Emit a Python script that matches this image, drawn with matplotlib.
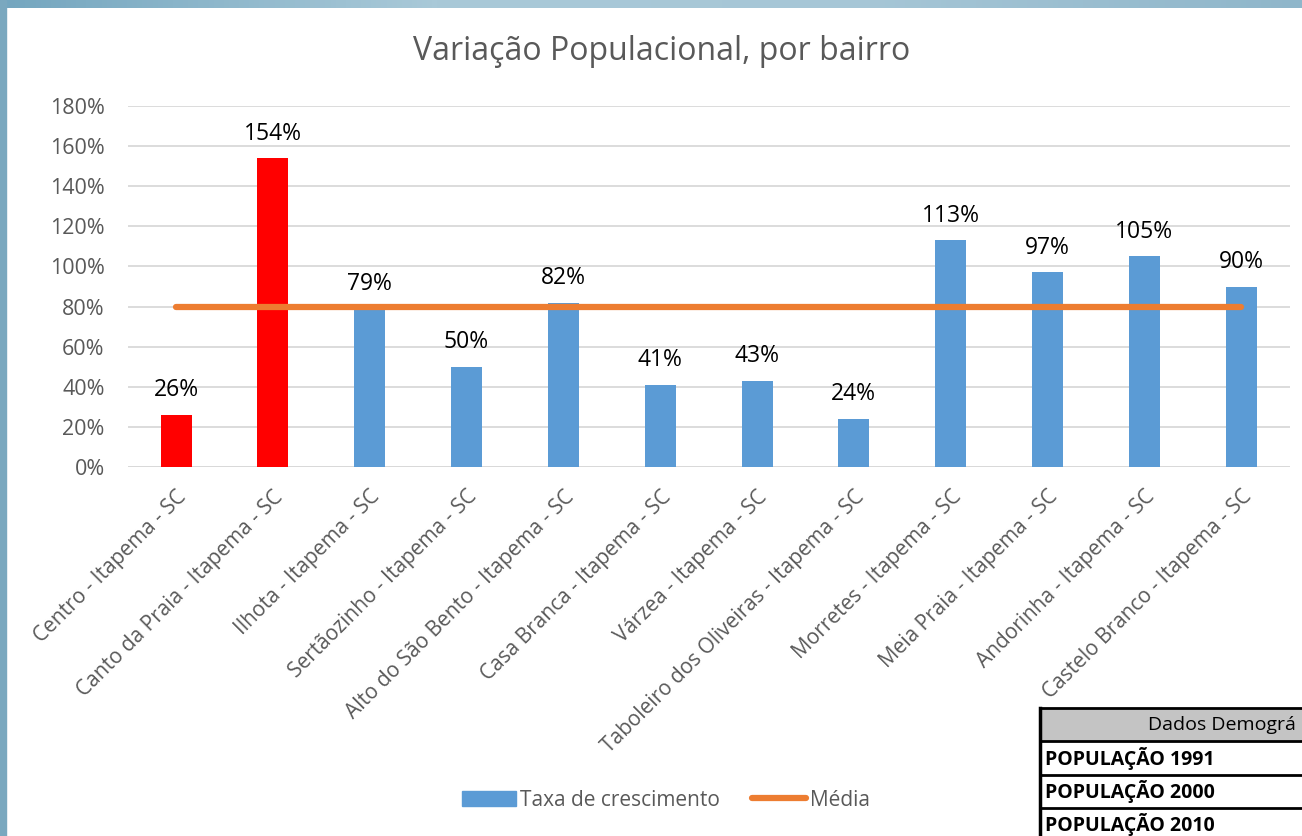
import numpy as np
import matplotlib.pyplot as plt
from matplotlib.patches import Rectangle, Patch
from matplotlib.lines import Line2D
from matplotlib.colors import LinearSegmentedColormap

plt.rcParams['font.family'] = ['Open Sans', 'DejaVu Sans']

# data
bairros = ['Centro - Itapema - SC', 'Canto da Praia - Itapema - SC', 'Ilhota - Itapema - SC',
           'Sertãozinho - Itapema - SC', 'Alto do São Bento - Itapema - SC',
           'Casa Branca - Itapema - SC', 'Várzea - Itapema - SC',
           'Taboleiro dos Oliveiras - Itapema - SC', 'Morretes - Itapema - SC',
           'Meia Praia - Itapema - SC', 'Andorinha - Itapema - SC',
           'Castelo Branco - Itapema - SC']
taxa = [0.26, 1.54, 0.79, 0.50, 0.82, 0.41, 0.43, 0.24, 1.13, 0.97, 1.05, 0.90]
media = 0.80
destaque = [True, True] + [False] * 10

tabela_linhas = ['POPULAÇÃO 1991', 'POPULAÇÃO 2000', 'POPULAÇÃO 2010']

W, H = 1302, 836
fig = plt.figure(figsize=(W / 100, H / 100), dpi=100)
fig.patch.set_facecolor('white')

# window frame (top gradient strip and left strip)
frame = fig.add_axes([0, 1 - 8 / H, 1, 8 / H])
cmap = LinearSegmentedColormap.from_list('f', ['#74a6bf', '#a9c9d8', '#a6c6d6', '#8fb6ca'])
frame.imshow(np.linspace(0, 1, 256)[None, :], aspect='auto', cmap=cmap)
frame.axis('off')
fig.patches.append(Rectangle((0, 0), 6 / W, 1, transform=fig.transFigure,
                             color='#7aa8bf', zorder=5))

ax = fig.add_axes([127.6 / W, 1 - 467 / H, 1162 / W, 361 / H])
x = np.arange(len(bairros))
cores = ['#ff0000' if d else '#5b9bd5' for d in destaque]
ax.bar(x, taxa, width=0.32, color=cores, zorder=2)
ax.plot([x[0], x[-1]], [media, media], color='#ed7d31', lw=4.5,
        solid_capstyle='round', zorder=3)

for xi, v in zip(x, taxa):
    ax.annotate(f'{v * 100:.0f}%', (xi, v), xytext=(0, 9), textcoords='offset points',
                ha='center', va='bottom', fontsize=16.5, color='black')

ax.set_xlim(-0.5, len(bairros) - 0.5)
ax.set_ylim(0, 1.8)
ax.set_yticks(np.arange(0, 1.81, 0.2))
ax.set_yticklabels([f'{t * 100:.0f}%' for t in np.arange(0, 1.81, 0.2)])
ax.set_xticks(x)
ax.set_xticklabels(bairros, rotation=45, ha='right', rotation_mode='anchor')
ax.tick_params(axis='y', length=0, labelsize=15.5, labelcolor='#595959', pad=16.5)
ax.tick_params(axis='x', length=0, labelsize=15, labelcolor='#595959', pad=14)
ax.grid(axis='y', color='#d9d9d9', lw=1.3, zorder=0)
for s in ax.spines.values():
    s.set_visible(False)
ax.axhline(0, color='#d9d9d9', lw=1.3, zorder=1)

fig.text(662 / W, 1 - 52 / H, 'Variação Populacional, por bairro', ha='center', va='center',
         fontsize=23, color='#595959')

handles = [Patch(color='#5b9bd5'), Line2D([], [], color='#ed7d31', lw=4.5, solid_capstyle='round')]
fig.legend(handles, ['Taxa de crescimento', 'Média'], loc='center', ncol=2,
           bbox_to_anchor=(666 / W, 1 - 800 / H), frameon=False, fontsize=15,
           labelcolor='#595959', handlelength=2.6, handletextpad=0.2, columnspacing=1.5)

# partial table at bottom right
tx0 = 1040
rows_y = [708, 741, 775, 808, 842]
fig.patches.append(Rectangle((tx0 / W, 1 - 741 / H), (W - tx0) / W, 33 / H,
                             transform=fig.transFigure, facecolor='#c4c4c4',
                             edgecolor='none', zorder=4))
for yy in rows_y[:-1]:
    fig.add_artist(Line2D([tx0 / W, 1], [1 - yy / H] * 2, color='black', lw=2, zorder=6))
fig.add_artist(Line2D([tx0 / W] * 2, [1 - 708 / H, 0], color='black', lw=2.5, zorder=6))
fig.text(1148 / W, 1 - 725 / H, 'Dados Demográ', ha='left', va='center',
         fontsize=14, color='black', zorder=7)
for i, lab in enumerate(tabela_linhas):
    yc = (rows_y[i + 1] + rows_y[i + 2]) / 2
    fig.text(1045 / W, 1 - yc / H, lab, ha='left', va='center', fontsize=14,
             fontweight='bold', color='black', zorder=7)

fig.savefig('out.png', dpi=100)
